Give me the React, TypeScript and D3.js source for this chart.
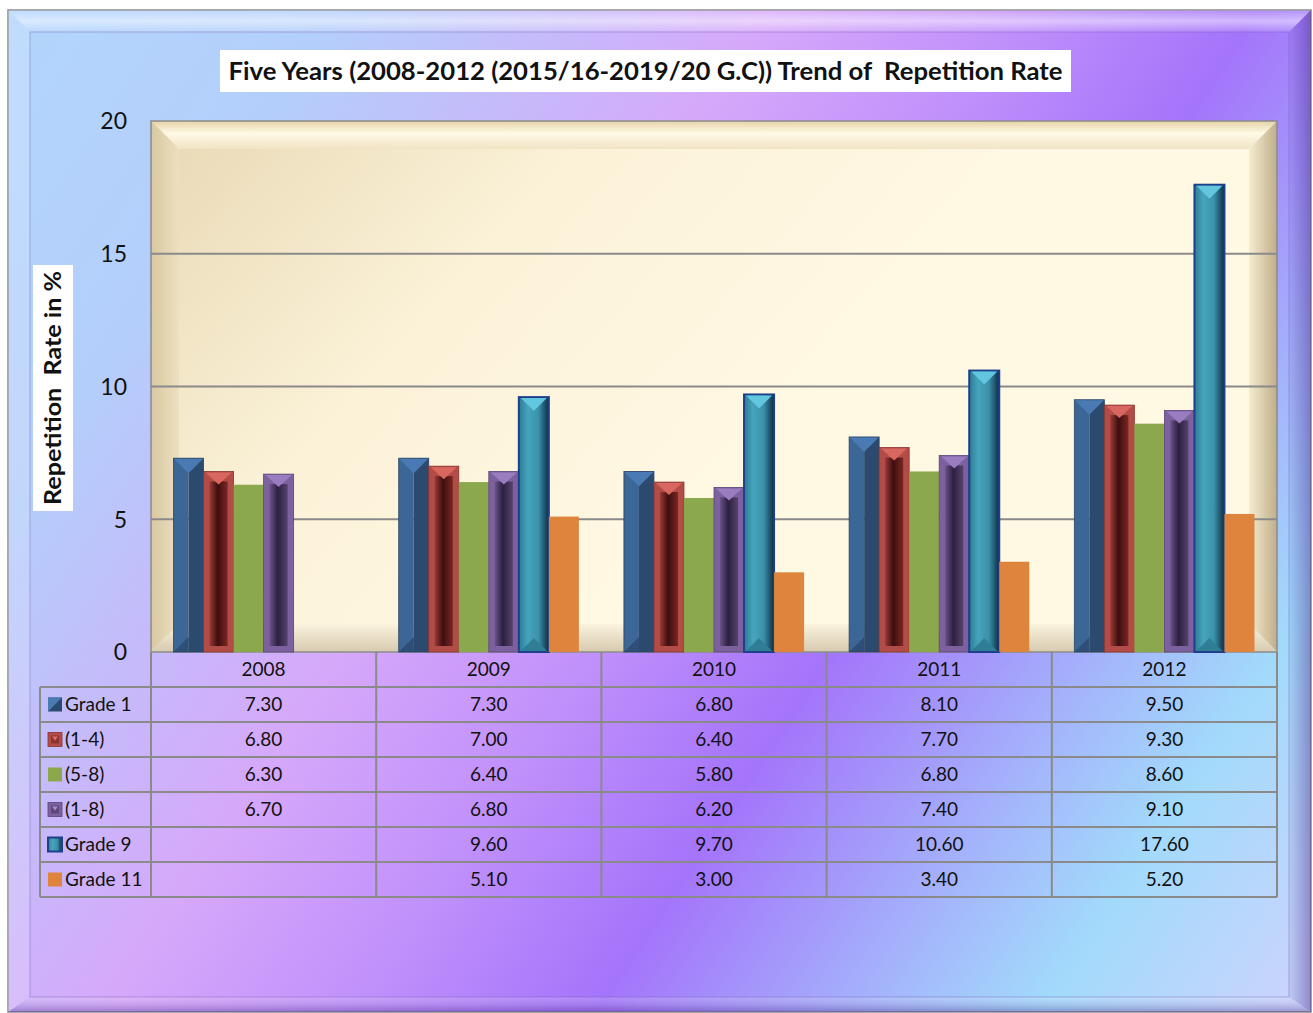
import React from "react";
import * as d3 from "d3";

const years = ["2008", "2009", "2010", "2011", "2012"];
const seriesNames = ["Grade 1", "(1-4)", "(5-8)", "(1-8)", "Grade 9", "Grade 11"];
const grade1 = [7.3, 7.3, 6.8, 8.1, 9.5];
const grades1to4 = [6.8, 7.0, 6.4, 7.7, 9.3];
const grades5to8 = [6.3, 6.4, 5.8, 6.8, 8.6];
const grades1to8 = [6.7, 6.8, 6.2, 7.4, 9.1];
const grade9: (number | null)[] = [null, 9.6, 9.7, 10.6, 17.6];
const grade11: (number | null)[] = [null, 5.1, 3.0, 3.4, 5.2];
const yTicks = [0, 5, 10, 15, 20];
const titleText = "Five Years (2008-2012 (2015/16-2019/20 G.C)) Trend of  Repetition Rate";
const yTitle = "Repetition  Rate in %";

const seriesValues: (number | null)[][] = [grade1, grades1to4, grades5to8, grades1to8, grade9, grade11];
const seriesStyle = ["angle", "grooveRed", "flatGreen", "groovePurple", "teal", "flatOrange"];

const W = 1313;
const H = 1013;
const plot = { l: 151, r: 1277, t: 121, b: 652 };
const FONT = "Lato, 'Open Sans', sans-serif";

function Bar({ kind, x, y, w, h }: { kind: string; x: number; y: number; w: number; h: number }) {
  const xc = x + w / 2;
  const b = y + h;
  if (kind === "flatGreen") return <rect x={x} y={y} width={w} height={h} fill="#8ca84c" />;
  if (kind === "flatOrange") return <rect x={x} y={y} width={w} height={h} fill="#de843c" />;
  if (kind === "angle") {
    const d = Math.min(w / 2, h / 2);
    return (
      <g>
        <rect x={x} y={y} width={w / 2} height={h} fill="#3b6696" />
        <rect x={xc} y={y} width={w / 2} height={h} fill="#2c4a6d" />
        <polygon points={`${x},${y} ${x + w},${y} ${xc},${y + d}`} fill="#4a7ab4" />
        <polygon points={`${x},${b} ${xc},${b - d} ${xc},${b}`} fill="#2f4f78" />
        <rect x={x} y={y} width={w} height={h} fill="none" stroke="#2a4466" strokeWidth={0.8} />
      </g>
    );
  }
  if (kind === "grooveRed" || kind === "groovePurple") {
    const red = kind === "grooveRed";
    const outer = red ? "#b24c47" : "#7d619e";
    const tri = red ? "#d8685f" : "#9a7cc0";
    const gid = red ? "url(#grooveRed)" : "url(#groovePurple)";
    const inset = 6;
    const d = Math.min(w / 2 - 2, h / 2);
    return (
      <g>
        <rect x={x} y={y} width={w} height={h} fill={outer} stroke={red ? "#8a3230" : "#5a4478"} strokeWidth={0.8} />
        {h > inset * 2 + 4 && (
          <rect x={x + inset} y={y + inset + 4} width={w - inset * 2} height={h - inset * 2 - 4} fill={gid} />
        )}
        <polygon points={`${x + 2},${y + 1} ${x + w - 2},${y + 1} ${xc},${y + Math.min(d, 13)}`} fill={tri} />
      </g>
    );
  }
  const d = Math.min(w / 2, h / 2, 14);
  return (
    <g>
      <rect x={x} y={y} width={w} height={h} fill="url(#tealGrad)" stroke="#1d3f8c" strokeWidth={2} />
      <polygon points={`${x + 2},${y + 1} ${x + w - 2},${y + 1} ${xc},${y + d}`} fill="#62c6de" />
      <polygon points={`${x + 2},${b - 1} ${x + w - 2},${b - 1} ${xc},${b - d}`} fill="#2f7e96" />
    </g>
  );
}

function LegendKey({ kind, x, y }: { kind: string; x: number; y: number }) {
  const s = 14;
  if (kind === "flatGreen") return <rect x={x} y={y} width={s} height={s} fill="#8ca84c" />;
  if (kind === "flatOrange") return <rect x={x} y={y} width={s} height={s} fill="#de843c" />;
  if (kind === "angle")
    return (
      <g>
        <rect x={x} y={y} width={s} height={s} fill="#2c4a6d" />
        <polygon points={`${x},${y} ${x + s},${y} ${x},${y + s}`} fill="#4a7ab4" />
      </g>
    );
  if (kind === "grooveRed" || kind === "groovePurple") {
    const red = kind === "grooveRed";
    return (
      <g>
        <rect x={x} y={y} width={s} height={s} fill={red ? "#b24c47" : "#7d619e"} stroke={red ? "#8a3230" : "#5a4478"} strokeWidth={0.8} />
        <rect x={x + 3} y={y + 3} width={s - 6} height={s - 6} fill={red ? "#8a3532" : "#5c4878"} />
        <polygon points={`${x + 4},${y + 4} ${x + s - 4},${y + 4} ${x + s / 2},${y + 8}`} fill={red ? "#e07068" : "#a88ccc"} />
      </g>
    );
  }
  return (
    <g>
      <rect x={x} y={y} width={s} height={s} fill="url(#tealGrad)" stroke="#1d3f8c" strokeWidth={2} />
    </g>
  );
}

export default function App() {
  const x0 = d3.scaleBand<string>().domain(years).range([plot.l, plot.r]).paddingInner(0).paddingOuter(0);
  const bw = x0.bandwidth();
  const x1 = d3
    .scaleBand<string>()
    .domain(seriesNames)
    .range([bw * 0.1, bw * 0.9])
    .padding(0);
  const y = d3.scaleLinear().domain([0, 20]).range([plot.b, plot.t]);

  const rowH = 35;
  const tableTop = plot.b;
  const legendLeft = 40;
  const rowsTop = tableTop + rowH;
  const tableBottom = rowsTop + rowH * seriesNames.length;
  const colEdges = [...years.map((yr) => x0(yr) as number), plot.r];

  const bev = 28;

  return (
    <svg width={W} height={H} style={{ position: "absolute", left: 0, top: 0 }} fontFamily={FONT}>
      <defs>
        <linearGradient id="bgGrad" gradientUnits="userSpaceOnUse" x1={0} y1={0} x2={1350} y2={895}>
          <stop offset="0" stopColor="#b2d6fc" />
          <stop offset="0.18" stopColor="#b4cefb" />
          <stop offset="0.4" stopColor="#d6a8fa" />
          <stop offset="0.52" stopColor="#c292fb" />
          <stop offset="0.65" stopColor="#a474fb" />
          <stop offset="0.8" stopColor="#a4b8fb" />
          <stop offset="0.88" stopColor="#a2dafb" />
          <stop offset="1" stopColor="#c8d4fc" />
        </linearGradient>
        <linearGradient id="plotGrad" gradientUnits="userSpaceOnUse" x1={plot.l} y1={plot.t} x2={plot.l + 500} y2={plot.t + 450}>
          <stop offset="0" stopColor="#e8d8b4" />
          <stop offset="0.5" stopColor="#fbf2d8" />
          <stop offset="1" stopColor="#fff8e3" />
        </linearGradient>
        <linearGradient id="topBev" x1="0" y1="0" x2="0" y2="1">
          <stop offset="0" stopColor="#e6d4a8" />
          <stop offset="0.45" stopColor="#fff9e6" />
          <stop offset="1" stopColor="#f1e4c4" />
        </linearGradient>
        <linearGradient id="leftBev" x1="0" y1="0" x2="1" y2="0">
          <stop offset="0" stopColor="#d8c8a2" />
          <stop offset="1" stopColor="#ede0c0" />
        </linearGradient>
        <linearGradient id="rightBev" x1="0" y1="0" x2="1" y2="0">
          <stop offset="0" stopColor="#f6eccf" />
          <stop offset="1" stopColor="#bfae8a" />
        </linearGradient>
        <linearGradient id="botBev" x1="0" y1="0" x2="0" y2="1">
          <stop offset="0" stopColor="#fbf3de" />
          <stop offset="1" stopColor="#d6c9ae" />
        </linearGradient>
        <linearGradient id="grooveRed" x1="0" y1="0" x2="1" y2="0">
          <stop offset="0" stopColor="#9a3a36" />
          <stop offset="0.45" stopColor="#3e0e0e" />
          <stop offset="1" stopColor="#7a2624" />
        </linearGradient>
        <linearGradient id="groovePurple" x1="0" y1="0" x2="1" y2="0">
          <stop offset="0" stopColor="#6a5288" />
          <stop offset="0.45" stopColor="#2c2040" />
          <stop offset="1" stopColor="#56426e" />
        </linearGradient>
        <linearGradient id="tealGrad" x1="0" y1="0" x2="1" y2="0">
          <stop offset="0" stopColor="#2c7c94" />
          <stop offset="0.3" stopColor="#46a4bc" />
          <stop offset="0.65" stopColor="#3a92aa" />
          <stop offset="1" stopColor="#0e2c44" />
        </linearGradient>
        <linearGradient id="frameTop" x1="0" y1="0" x2="0" y2="1">
          <stop offset="0" stopColor="#ffffff" stopOpacity="0.15" />
          <stop offset="0.5" stopColor="#ffffff" stopOpacity="0.5" />
          <stop offset="1" stopColor="#ffffff" stopOpacity="0.1" />
        </linearGradient>
        <linearGradient id="frameRight" x1="0" y1="0" x2="1" y2="0">
          <stop offset="0" stopColor="#3a1a80" stopOpacity="0.05" />
          <stop offset="1" stopColor="#3a1a80" stopOpacity="0.4" />
        </linearGradient>
        <linearGradient id="frameBottom" x1="0" y1="0" x2="0" y2="1">
          <stop offset="0" stopColor="#ffffff" stopOpacity="0.15" />
          <stop offset="1" stopColor="#3a1a80" stopOpacity="0.35" />
        </linearGradient>
      </defs>

      <rect x={8} y={10} width={1303} height={1002} fill="url(#bgGrad)" stroke="#8a8a8a" strokeWidth={1.5} />
      <polygon points="8,10 1311,10 1289,32 30,32" fill="url(#frameTop)" />
      <polygon points="8,10 30,32 30,997 8,1012" fill="#ffffff" fillOpacity={0.18} />
      <polygon points="1311,10 1311,1012 1289,997 1289,32" fill="url(#frameRight)" />
      <polygon points="8,1012 30,997 1289,997 1311,1012" fill="url(#frameBottom)" />
      <rect x={30} y={32} width={1259} height={965} fill="none" stroke="#7a62b8" strokeOpacity={0.45} strokeWidth={1} />

      <rect x={220} y={50} width={851} height={42} fill="#ffffff" />
      <text
        x={645.5}
        y={80}
        textAnchor="middle"
        fontSize={25}
        fontWeight={700}
        fill="#111"
        textLength={834}
        lengthAdjust="spacingAndGlyphs"
        style={{ whiteSpace: "pre" }}
      >
        {titleText}
      </text>

      <rect x={33} y={265} width={40} height={246} fill="#ffffff" />
      <text
        transform="translate(61,388) rotate(-90)"
        textAnchor="middle"
        fontSize={22}
        fontWeight={700}
        fill="#111"
        textLength={234}
        lengthAdjust="spacingAndGlyphs"
        style={{ whiteSpace: "pre" }}
      >
        {yTitle}
      </text>

      <rect x={plot.l} y={plot.t} width={plot.r - plot.l} height={plot.b - plot.t} fill="url(#plotGrad)" />
      <polygon
        points={`${plot.l},${plot.t} ${plot.r},${plot.t} ${plot.r - bev},${plot.t + bev} ${plot.l + bev},${plot.t + bev}`}
        fill="url(#topBev)"
      />
      <polygon
        points={`${plot.l},${plot.t} ${plot.l + bev},${plot.t + bev} ${plot.l + bev},${plot.b - bev} ${plot.l},${plot.b}`}
        fill="url(#leftBev)"
      />
      <polygon
        points={`${plot.r},${plot.t} ${plot.r},${plot.b} ${plot.r - bev},${plot.b - bev} ${plot.r - bev},${plot.t + bev}`}
        fill="url(#rightBev)"
      />
      <polygon
        points={`${plot.l},${plot.b} ${plot.l + bev},${plot.b - bev} ${plot.r - bev},${plot.b - bev} ${plot.r},${plot.b}`}
        fill="url(#botBev)"
      />
      <rect x={plot.l} y={plot.t} width={plot.r - plot.l} height={plot.b - plot.t} fill="none" stroke="#8c8c8c" strokeWidth={1.5} />

      {yTicks.slice(1, -1).map((t) => (
        <line key={t} x1={plot.l} x2={plot.r} y1={y(t)} y2={y(t)} stroke="#8a8a8a" strokeWidth={2} />
      ))}

      {yTicks.map((t) => (
        <text key={t} x={127} y={y(t)} dy="0.36em" textAnchor="end" fontSize={23} fill="#111">
          {t}
        </text>
      ))}

      {years.map((yr, i) => (
        <g key={yr} transform={`translate(${x0(yr)},0)`}>
          {seriesNames.map((s, j) => {
            const v = seriesValues[j][i];
            if (v == null) return null;
            return (
              <Bar key={s} kind={seriesStyle[j]} x={x1(s) as number} y={y(v)} w={x1.bandwidth()} h={y(0) - y(v)} />
            );
          })}
        </g>
      ))}

      <g stroke="#8a8a8a" strokeWidth={2}>
        {[...Array(seriesNames.length + 1)].map((_, k) => (
          <line key={"h" + k} x1={legendLeft} x2={plot.r} y1={rowsTop + k * rowH} y2={rowsTop + k * rowH} />
        ))}
        {colEdges.map((cx, k) => (
          <line key={"v" + k} x1={cx} x2={cx} y1={tableTop} y2={tableBottom} />
        ))}
        <line x1={legendLeft} x2={legendLeft} y1={rowsTop} y2={tableBottom} />
      </g>
      {years.map((yr) => (
        <text key={yr} x={(x0(yr) as number) + bw / 2} y={tableTop + rowH / 2} dy="0.36em" textAnchor="middle" fontSize={19} fill="#111">
          {yr}
        </text>
      ))}
      {seriesNames.map((s, j) => {
        const cy = rowsTop + j * rowH + rowH / 2;
        return (
          <g key={s}>
            <LegendKey kind={seriesStyle[j]} x={48} y={cy - 7} />
            <text x={65} y={cy} dy="0.36em" fontSize={19} fill="#111">
              {s}
            </text>
            {years.map((yr, i) => {
              const v = seriesValues[j][i];
              if (v == null) return null;
              return (
                <text key={yr} x={(x0(yr) as number) + bw / 2} y={cy} dy="0.36em" textAnchor="middle" fontSize={19} fill="#111">
                  {d3.format(".2f")(v)}
                </text>
              );
            })}
          </g>
        );
      })}
    </svg>
  );
}
